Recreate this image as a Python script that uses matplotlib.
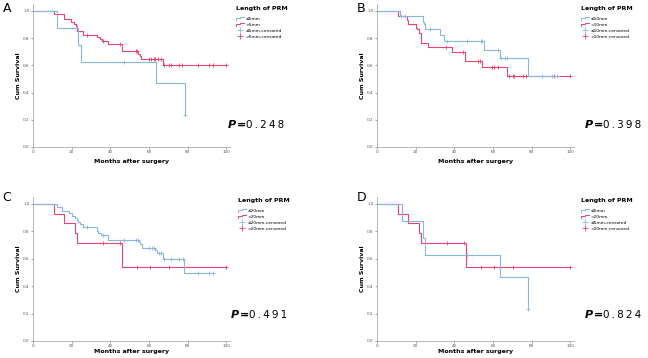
import matplotlib
matplotlib.use("Agg")
import matplotlib.pyplot as plt
from matplotlib.lines import Line2D
from matplotlib.legend_handler import HandlerBase
import numpy as np

# ---- data (months, cumulative survival) ----
# A: <=5mm vs >5mm
a_low_t = [0, 12.5, 23.5, 24.6, 63.5, 78.7]
a_low_s = [1.0, 0.875, 0.75, 0.625, 0.469, 0.234]
a_low_c = [47, 78.7]
a_high_t = [0, 11, 16, 19.5, 21, 22.5, 23, 26, 33, 34.5, 35.5, 39, 46, 54.5, 55.5, 56, 67.5]
a_high_s = [1.0, 0.975, 0.94, 0.92, 0.905, 0.885, 0.85, 0.825, 0.81, 0.795, 0.775, 0.755,
            0.705, 0.685, 0.665, 0.645, 0.60]
a_high_c = [28, 36.3, 45, 53.3, 54, 60, 61, 62.5, 63.3, 64.5, 66.3, 68, 70.3, 71.5, 75.4,
            77.2, 85.5, 91.2, 93.4, 100]

# B: <=10mm vs >10mm
b_low_t = [0, 11.8, 23.6, 24.3, 25, 32.6, 34.7, 55.5, 63.6, 78.3]
b_low_s = [1.0, 0.96, 0.92, 0.905, 0.87, 0.825, 0.78, 0.715, 0.655, 0.523]
b_low_c = [12.6, 14.3, 27.4, 36, 46.8, 53.7, 54.6, 62.4, 64.1, 66.4, 67.2, 85.3, 90.6, 93]
b_high_t = [0, 10.7, 15.6, 15.8, 20, 20.8, 21.8, 22.7, 26.5, 38.6, 45.6, 54.6, 67.2]
b_high_s = [1.0, 0.965, 0.935, 0.90, 0.875, 0.865, 0.835, 0.765, 0.735, 0.70, 0.63, 0.585, 0.518]
b_high_c = [35.5, 44.7, 52.5, 53.4, 59.8, 60.7, 62.9, 68.1, 70.5, 71, 75.6, 77.3, 91.5, 100]

# C: <=20mm vs >20mm
c_low_t = [0, 12.5, 15.2, 18.7, 20.4, 22, 22.8, 23.5, 24.2, 26, 32.9, 33.9, 35, 38.9, 54.7,
           55.4, 56.2, 63.3, 64, 67.5, 78.4]
c_low_s = [1.0, 0.975, 0.95, 0.93, 0.915, 0.9, 0.883, 0.865, 0.85, 0.828, 0.8, 0.785, 0.772,
           0.738, 0.72, 0.705, 0.68, 0.66, 0.64, 0.595, 0.493]
c_low_c = [28, 36.3, 47, 53.3, 54.2, 60, 61.8, 62.6, 65, 66.4, 68, 71.5, 75.6, 77.5, 85.6,
           91.2, 93.4]
c_high_t = [0, 11, 16, 22, 23, 46.2]
c_high_s = [1.0, 0.929, 0.857, 0.786, 0.714, 0.536]
c_high_c = [36, 45, 54, 60.5, 70.6, 100]

# D: <=5mm vs >20mm
d_low_t = [0, 13, 23.7, 25, 63.6, 78.3]
d_low_s = [1.0, 0.875, 0.75, 0.625, 0.469, 0.234]
d_low_c = [46.8, 78.3]
d_high_t = [0, 11, 16, 22, 23, 46.2]
d_high_s = [1.0, 0.929, 0.857, 0.786, 0.714, 0.536]
d_high_c = [36, 45, 54, 60.5, 70.6, 100]

panels = [
    ("A", a_low_t, a_low_s, a_low_c, a_high_t, a_high_s, a_high_c,
     ["\u22645mm", ">5mm", "\u22645mm-censored", ">5mm-censored"], "0.248"),
    ("B", b_low_t, b_low_s, b_low_c, b_high_t, b_high_s, b_high_c,
     ["\u226410mm", ">10mm", "\u226410mm-censored", ">10mm-censored"], "0.398"),
    ("C", c_low_t, c_low_s, c_low_c, c_high_t, c_high_s, c_high_c,
     ["\u226420mm", ">20mm", "\u226420mm-censored", ">20mm-censored"], "0.491"),
    ("D", d_low_t, d_low_s, d_low_c, d_high_t, d_high_s, d_high_c,
     ["\u22645mm", ">20mm", "\u22645mm-censored", ">20mm-censored"], "0.824"),
]

BLUE = "#86b6e8"
RED = "#e5456f"
W, H = 648, 358

fig = plt.figure(figsize=(W / 100, H / 100), dpi=100)

# pixel layout: axes box (left, top, right, bottom)
boxes = [(33, 4, 230, 147), (377, 4, 574, 147), (33, 197, 230, 341), (377, 197, 574, 341)]
letters_xy = [(3, 2), (357, 2), (2, 191), (357, 191)]
legend_xy = [(236, 6), (581, 6), (238, 198), (581, 198)]
pval_xy = [(228, 128), (585, 128), (231, 318), (585, 318)]
xlab_y = [162, 162, 352, 352]
ylab_x = [19, 362, 19, 362]


class StepHandler(HandlerBase):
    # little step-shaped line like the SPSS legend
    def create_artists(self, legend, orig, xd, yd, width, height, fontsize, trans):
        x = [0, 0, width * 0.55, width * 0.55, width]
        y = [height * 0.1, height * 0.75, height * 0.75, height * 1.0, height * 1.0]
        y = [v - height * 0.15 for v in y]
        ln = Line2D(x, y, color=orig.get_color(), lw=0.7, transform=trans)
        return [ln]


def km(ax, t, s, c, color):
    end = max(max(c), t[-1])
    ax.step(list(t) + [end], list(s) + [s[-1]], where="post", color=color, lw=0.8)
    idx = np.searchsorted(t, c, side="right") - 1
    ax.plot(c, np.array(s)[idx], "+", color=color, ms=3, mew=0.6)


for i, (lab, lt, ls, lc, ht, hs, hc, names, p) in enumerate(panels):
    l, t, r, b = boxes[i]
    ax = fig.add_axes([l / W, 1 - b / H, (r - l) / W, (b - t) / H])
    km(ax, ht, hs, hc, RED)
    km(ax, lt, ls, lc, BLUE)
    ax.set_xlim(0, 102)
    ax.set_ylim(0, 1.05)
    ax.set_xticks([0, 20, 40, 60, 80, 100])
    ax.set_yticks([0, 0.2, 0.4, 0.6, 0.8, 1.0])
    ax.set_yticklabels(["0.0", "0.2", "0.4", "0.6", "0.8", "1.0"])
    ax.tick_params(labelsize=3, colors="#555555", length=1.5, width=0.4, pad=1)
    for sp in ["top", "right"]:
        ax.spines[sp].set_visible(False)
    for sp in ["left", "bottom"]:
        ax.spines[sp].set_color("#aaaaaa")
        ax.spines[sp].set_linewidth(0.6)
    ax.set_xlabel("Months after surgery", fontsize=4.5, fontweight="bold")
    ax.set_ylabel("Cum Survival", fontsize=4.5, fontweight="bold")
    ax.xaxis.set_label_coords(0.5, -(xlab_y[i] - b) / (b - t), transform=ax.transAxes)
    ax.xaxis.label.set_va("center")
    ax.yaxis.set_label_coords((ylab_x[i] - l) / (r - l), 0.5, transform=ax.transAxes)
    ax.yaxis.label.set_va("center")

    fig.text(letters_xy[i][0] / W, 1 - letters_xy[i][1] / H, lab, fontsize=9,
             va="top", ha="left")

    handles = [
        Line2D([], [], color=BLUE, lw=0.8),
        Line2D([], [], color=RED, lw=0.8),
        Line2D([], [], color=BLUE, lw=0, marker="+", ms=4, mew=0.6),
        Line2D([], [], color=RED, lw=0, marker="+", ms=4, mew=0.6),
    ]
    leg = fig.legend(handles, names, loc="upper left",
                     bbox_to_anchor=(legend_xy[i][0] / W, 1 - legend_xy[i][1] / H),
                     frameon=False, fontsize=3.2, title="Length of PRM",
                     title_fontproperties={"size": 4.5, "weight": "bold"},
                     handlelength=1.8, handletextpad=0.3, labelspacing=0.45,
                     borderaxespad=0, borderpad=0,
                     handler_map={handles[0]: StepHandler(), handles[1]: StepHandler()})
    leg._legend_box.align = "left"
    leg._legend_box.sep = 4

    px, py = pval_xy[i]
    fig.text(px / W, 1 - py / H, "P", fontsize=8, fontweight="bold",
             fontstyle="italic", va="baseline")
    fig.text((px + 9) / W, 1 - py / H, "=", fontsize=8, fontweight="bold",
             va="baseline")
    fig.text((px + 18) / W, 1 - py / H, "\u2009".join(p), fontsize=7.5, va="baseline")

fig.savefig("out.png", dpi=100)
